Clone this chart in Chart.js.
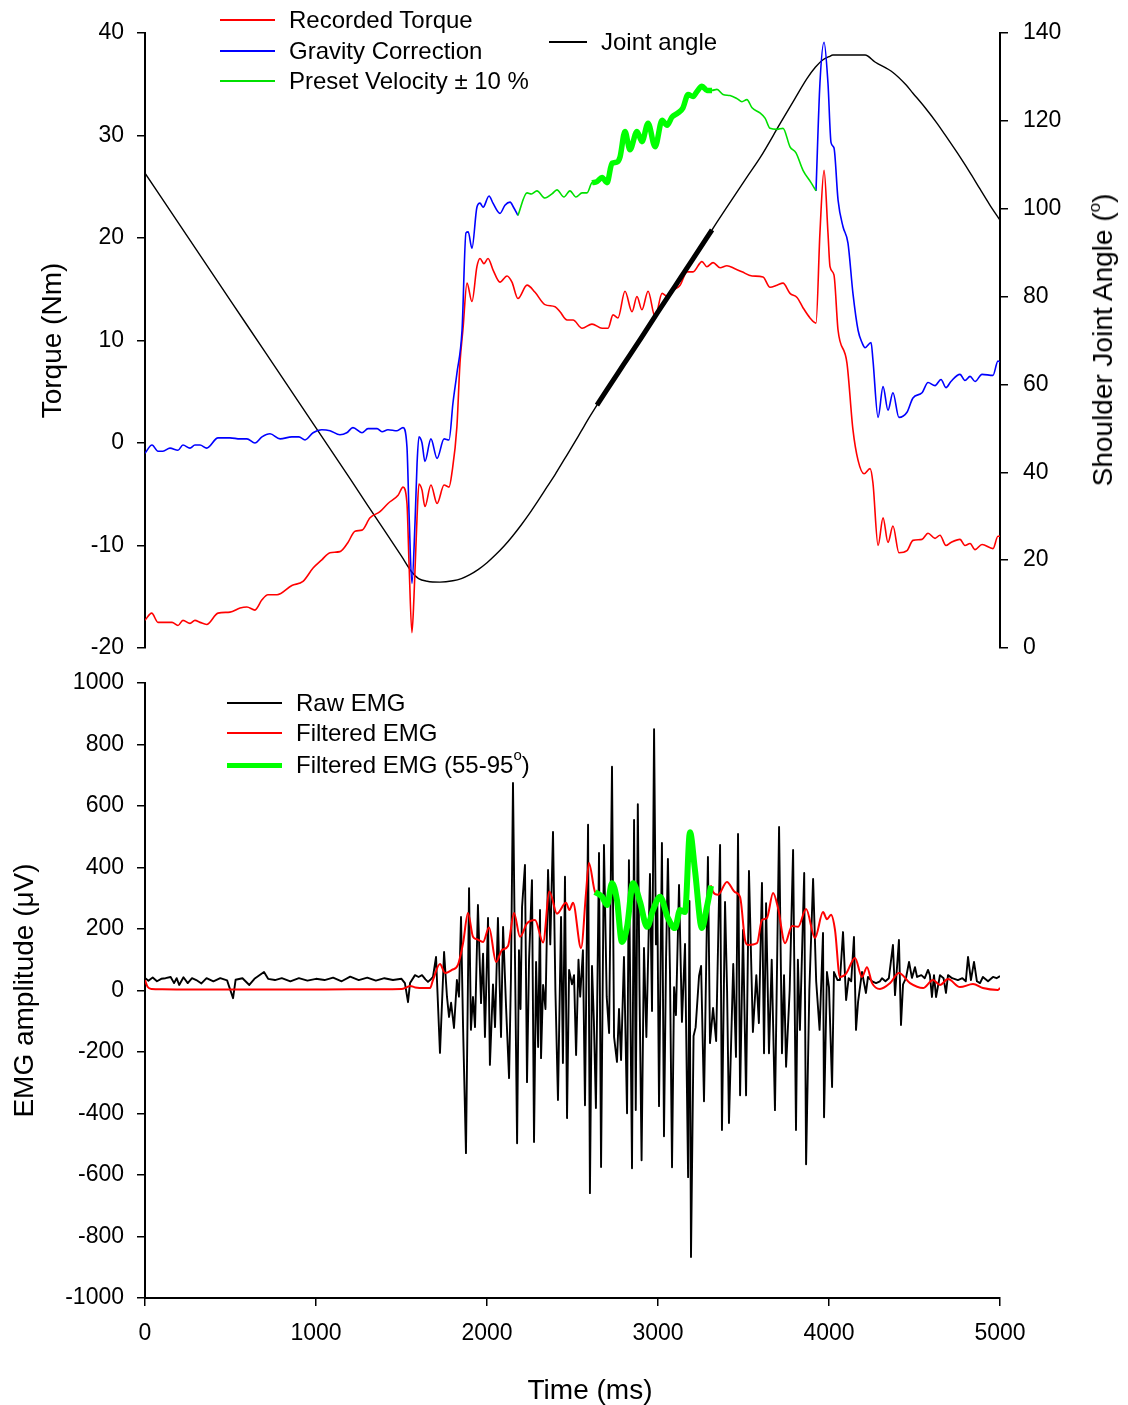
<!DOCTYPE html>
<html>
<head>
<meta charset="utf-8">
<title>Torque, joint angle and EMG</title>
<script src="https://cdn.jsdelivr.net/npm/chart.js@4.4.1/dist/chart.umd.min.js"></script>
<style>
  html, body { margin: 0; padding: 0; background: #fff; }
  body { width: 1128px; height: 1405px; position: relative; overflow: hidden;
         font-family: "Liberation Sans", Arial, sans-serif; color: #000; }
  canvas { position: absolute; left: 0; }
  #topCanvas { top: 0; }
  #bottomCanvas { top: 650px; }
  .key { position: absolute; height: 30px; line-height: 30px; font-size: 24px; white-space: nowrap; }
  .key .swatch { position: absolute; top: 50%; }
  .key .label { position: absolute; top: 0; }
  .key sup { font-size: 15px; position: relative; top: -3px; vertical-align: top; line-height: 1; }
  .axisTitle { position: absolute; font-size: 28px; white-space: nowrap; line-height: 1; }
  #angleTitle { left: 1103px; top: 340px; transform: translate(-50%, -50%) rotate(-90deg); }
  #timeTitle { left: 590px; top: 1390px; transform: translate(-50%, -50%); }
  .axisTitle sup { font-size: 17px; position: relative; top: -3px; vertical-align: top; line-height: 1; }
</style>
</head>
<body>
<canvas id="topCanvas" width="1128" height="680"></canvas>
<canvas id="bottomCanvas" width="1128" height="755"></canvas>
<div id="angleTitle" class="axisTitle">Shoulder Joint Angle (<sup>o</sup>)</div>
<div id="timeTitle" class="axisTitle">Time (ms)</div>
<div id="legends"></div>
<script>
// ---- tick values ----
const timeTicks = [0, 1000, 2000, 3000, 4000, 5000];
const torqueTicks = [-20, -10, 0, 10, 20, 30, 40];
const angleTicks = [0, 20, 40, 60, 80, 100, 120, 140];
const emgTicks = [-1000, -800, -600, -400, -200, 0, 200, 400, 600, 800, 1000];

// ---- recorded torque (Nm) ----
const torqueTime = [0, 39, 76, 158, 193, 222, 263, 292, 322, 361, 427, 497, 556, 596, 643, 684, 719, 772,
  859, 924, 983, 1034, 1082, 1140, 1187, 1228, 1269, 1316, 1374, 1421, 1480, 1509, 1532, 1544, 1561, 1573,
  1591, 1602, 1620, 1637, 1672, 1708, 1749, 1778, 1795, 1824, 1842, 1860, 1883, 1912, 1941, 1959, 1982,
  2006, 2035, 2076, 2117, 2146, 2181, 2234, 2281, 2339, 2398, 2427, 2468, 2503, 2556, 2614, 2673, 2708,
  2737, 2766, 2807, 2848, 2877, 2906, 2942, 2983, 3024, 3053, 3088, 3129, 3170, 3205, 3257, 3286, 3322,
  3363, 3403, 3450, 3491, 3550, 3614, 3655, 3696, 3731, 3772, 3813, 3848, 3889, 3924, 3947, 3971, 3994,
  4006, 4029, 4053, 4105, 4140, 4170, 4205, 4240, 4257, 4287, 4316, 4345, 4374, 4409, 4456, 4491, 4544,
  4579, 4620, 4649, 4684, 4713, 4766, 4795, 4825, 4854, 4895, 4959, 4988, 5000];
const recordedTorque = [-17.3, -16.6, -17.5, -17.5, -17.8, -17.3, -17.6, -17.3, -17.5, -17.7, -16.6, -16.5,
  -16.1, -16.0, -16.3, -15.3, -14.8, -14.8, -13.9, -13.5, -12.2, -11.4, -10.7, -10.6, -9.7, -8.6, -8.5,
  -7.3, -6.7, -5.9, -5.1, -4.3, -5.9, -11.7, -18.5, -15.0, -7.2, -4.0, -4.6, -6.2, -4.1, -5.9, -4.1, -4.3,
  -2.9, 1.6, 7.8, 11.2, 15.6, 13.8, 17.2, 18.0, 17.5, 18.0, 16.9, 15.7, 16.3, 15.7, 14.1, 15.4, 14.7,
  13.5, 13.3, 12.8, 12.0, 12.0, 11.2, 11.6, 11.2, 11.2, 12.5, 12.2, 14.8, 12.8, 14.3, 13.0, 14.8, 12.3,
  14.6, 14.3, 14.9, 15.4, 16.7, 16.7, 17.7, 17.2, 17.6, 17.1, 17.3, 17.0, 16.7, 16.3, 16.2, 15.2, 15.4,
  15.6, 14.6, 14.2, 13.2, 12.2, 11.7, 20.5, 26.6, 20.5, 17.2, 16.4, 11.0, 7.8, 1.3, -1.7, -3.0, -2.5,
  -3.9, -10.0, -7.3, -9.7, -8.1, -10.7, -10.5, -9.5, -9.4, -8.8, -9.3, -9.0, -10.0, -9.7, -9.4, -10.0,
  -9.8, -10.4, -9.9, -10.3, -9.1, -9.1];

// ---- gravity corrected torque (Nm) ----
const gravityTime = [0, 41, 76, 105, 146, 193, 222, 263, 292, 322, 361, 427, 497, 556, 596, 643, 684, 731,
  790, 859, 900, 936, 983, 1034, 1082, 1140, 1180, 1216, 1269, 1304, 1357, 1386, 1421, 1474, 1509, 1532,
  1544, 1561, 1579, 1591, 1602, 1620, 1637, 1672, 1708, 1749, 1778, 1801, 1824, 1854, 1877, 1890, 1912,
  1941, 1959, 1977, 2012, 2035, 2076, 2105, 2135, 2155, 2181, 2234, 2260, 2292, 2339, 2380, 2409, 2450,
  2485, 2520, 2556, 2585, 2614, 2643, 2673, 2702, 2731, 2760, 2778, 2807, 2836, 2877, 2906, 2942, 2983,
  3024, 3053, 3082, 3117, 3146, 3176, 3205, 3228, 3257, 3286, 3316, 3345, 3380, 3421, 3462, 3491, 3520,
  3550, 3596, 3626, 3655, 3696, 3731, 3772, 3807, 3848, 3895, 3924, 3947, 3971, 3994, 4012, 4029, 4053,
  4082, 4111, 4140, 4170, 4193, 4211, 4246, 4257, 4287, 4316, 4345, 4374, 4409, 4456, 4491, 4544, 4579,
  4620, 4655, 4684, 4713, 4766, 4795, 4825, 4854, 4895, 4959, 4988, 5000];
const gravityCorrection = [-1.0, -0.2, -0.8, -0.8, -0.5, -0.7, -0.2, -0.5, -0.2, -0.2, -0.5, 0.5, 0.5, 0.4,
  0.4, 0.0, 0.6, 0.9, 0.4, 0.6, 0.6, 0.3, 1.0, 1.3, 1.2, 0.8, 1.0, 1.5, 1.0, 1.4, 1.4, 1.1, 1.3, 1.2, 1.5,
  -0.4, -6.8, -13.7, -7.8, -2.0, 0.6, 0.0, -1.8, 0.4, -1.5, 0.4, 0.3, 3.9, 6.8, 11.0, 20.5, 20.6, 19.0,
  23.0, 23.4, 23.0, 24.1, 23.4, 22.4, 23.2, 23.5, 23.0, 22.2, 24.4, 24.3, 24.6, 23.9, 24.3, 24.7, 24.0,
  24.6, 24.0, 24.4, 24.4, 25.4, 25.5, 25.9, 25.4, 27.3, 27.4, 27.9, 30.4, 28.6, 30.4, 29.4, 31.2, 28.9,
  31.5, 31.0, 31.8, 32.2, 32.7, 34.0, 33.8, 34.3, 34.8, 34.4, 34.4, 34.5, 34.0, 33.9, 33.6, 33.3, 33.5,
  32.7, 32.2, 31.7, 30.7, 30.6, 30.7, 28.9, 28.3, 26.6, 25.4, 24.6, 35.1, 39.1, 35.1, 29.3, 28.8, 23.7,
  21.1, 19.5, 14.6, 11.0, 9.8, 9.3, 9.8, 8.1, 2.5, 5.5, 3.2, 4.9, 2.5, 3.0, 4.4, 4.9, 5.9, 5.6, 6.2, 5.4,
  6.0, 6.7, 6.1, 6.5, 6.0, 6.7, 6.6, 8.0, 7.9];

// ---- shoulder joint angle (deg) ----
const angleTime = [0, 100, 200, 300, 400, 500, 600, 700, 800, 900, 1000, 1100, 1200, 1300, 1400, 1500, 1560,
  1600, 1650, 1725, 1800, 1850, 1900, 1950, 2000, 2050, 2100, 2150, 2200, 2250, 2300, 2350, 2400, 2450,
  2500, 2550, 2600, 2643, 2700, 2800, 2900, 3000, 3100, 3200, 3316, 3400, 3520, 3600, 3713, 3800, 3871,
  3920, 3965, 4000, 4023, 4211, 4269, 4374, 4450, 4491, 4560, 4631, 4700, 4766, 4830, 4883, 4940, 5000];
const jointAngle = [108.1, 102.3, 96.5, 90.7, 84.9, 79.1, 73.3, 67.5, 61.7, 55.9, 50.1, 44.3, 38.5, 32.6,
  26.8, 20.9, 17.3, 15.8, 15.2, 15.0, 15.3, 15.8, 16.7, 17.9, 19.4, 21.2, 23.2, 25.5, 28.0, 30.7, 33.6,
  36.6, 39.6, 42.8, 46.0, 49.3, 52.6, 55.3, 58.7, 64.6, 70.5, 76.5, 82.4, 88.3, 95.2, 100.2, 107.2, 111.8,
  119.3, 125.0, 129.6, 132.2, 133.9, 134.6, 135.0, 135.0, 133.4, 131.0, 128.2, 126.3, 123.1, 119.5, 115.6,
  111.8, 107.9, 104.5, 100.9, 97.4];

// ---- raw EMG (uV) ----
const rawTime = [0, 20, 45, 70, 95, 120, 150, 170, 185, 200, 225, 250, 275, 300, 330, 360, 400, 440, 480,
  515, 530, 570, 610, 640, 696, 720, 760, 800, 850, 900, 950, 1000, 1050, 1100, 1150, 1200, 1250, 1300,
  1350, 1400, 1450, 1500, 1520, 1538, 1550, 1579, 1600, 1620, 1640, 1655,
  1667, 1684, 1702, 1725, 1749, 1766, 1778, 1790, 1807, 1824, 1836, 1848, 1860, 1877, 1895, 1906, 1918,
  1930, 1947, 1965, 1977, 1988, 2006, 2017, 2035, 2047, 2064, 2082, 2094, 2111, 2129, 2140, 2152, 2176,
  2187, 2196, 2205, 2222, 2234, 2246, 2263, 2275, 2287, 2299, 2310, 2316, 2328, 2342, 2357, 2370, 2386,
  2400, 2415, 2433, 2444, 2456, 2468, 2480, 2497, 2509, 2521, 2535, 2545, 2561, 2573, 2591, 2602, 2614,
  2625, 2637, 2655, 2667, 2684, 2700, 2714, 2731, 2743, 2760, 2772, 2784, 2801, 2819, 2830, 2848, 2860,
  2870, 2882, 2892, 2904, 2918, 2932, 2953, 2965, 2977, 2988, 2996, 3006, 3023, 3035, 3047, 3058, 3070,
  3082, 3094, 3105, 3123, 3140, 3158, 3176, 3184, 3193, 3208, 3220, 3240, 3252, 3269, 3292, 3304, 3322,
  3340, 3363, 3374, 3392, 3404, 3415, 3440, 3456, 3468, 3480, 3497, 3515, 3532, 3555, 3575, 3590, 3608,
  3620, 3632, 3649, 3665, 3684, 3708, 3725, 3737, 3749, 3770, 3790, 3807, 3818, 3830, 3855, 3866, 3885,
  3907, 3925, 3945, 3965, 3971, 3988, 4000, 4018, 4029, 4050, 4064, 4082, 4100, 4115, 4130, 4146, 4158,
  4170, 4193, 4216, 4228, 4252, 4275, 4298, 4310, 4330, 4350, 4374, 4386, 4409, 4421, 4433, 4450, 4468,
  4485, 4503, 4515, 4540, 4560, 4579, 4590, 4602, 4614, 4626, 4649, 4670, 4684, 4696, 4720, 4754, 4780,
  4800, 4813, 4830, 4848, 4865, 4883, 4900, 4930, 4959, 4980, 5000];
const rawEmg = [41, 32, 42, 30, 38, 40, 44, 24, 40, 18, 43, 24, 40, 34, 23, 40, 30, 40, 33, -25, 35, 40, 18,
  38, 60, 38, 34, 40, 30, 40, 32, 38, 34, 42, 30, 45, 34, 42, 32, 40, 34, 38, 24, -38, 24, 50, 44, 50, 36, 28,
  34, 44, 109, -203, 125, -21, -86, -40, -122, 34, -20, 239, -119, -529, 333, -128, -21, -119, 278, -41,
  120, -151, 236, -242, 20, -119, 236, -151, 207, -47, -285, 40, 675, -497, 131, -60, 272, 408, -298, 100,
  359, -493, 93, -184, 262, -220, 18, -60, 392, 150, 516, 0, -356, 239, -236, 370, -415, 67, 20, 50, -210,
  100, -20, 131, -373, 539, -659, 80, -100, -382, 447, -574, 473, -20, -138, 728, -151, -232, -60, -226,
  109, -399, 424, -578, 555, -389, 606, 0, -552, 138, -151, 379, -67, 850, 150, 305, -376, 480, -474, 100,
  428, 60, -575, 11, -80, 343, -102, 151, -607, 291, -867, -148, -120, 47, 80, -360, 434, -171, -57, -164,
  473, -454, 288, 0, -431, 86, -216, 509, -341, 197, -341, 389, -135, 50, -106, 350, -204, 284, -204, 100,
  -389, 532, -204, 50, -248, 0, 457, -454, 100, -128, 382, -565, 0, 363, 30, -128, 187, -412, 60, 10, -314,
  60, 34, 34, 190, -31, 40, 30, 174, -128, -37, 60, -8, 44, 30, 24, 30, 40, 30, 40, 148, -15, 164, -112, 20,
  40, 93, 41, 76, 44, 50, 40, 67, 50, -21, 50, -21, 50, 40, -8, 50, 40, 34, 40, 30, 109, 34, 93, 30, 24, 44,
  30, 44, 40, 47];

// ---- filtered EMG (uV) ----
const filtTime = [0, 15, 39, 100, 300, 600, 900, 1200, 1500, 1532, 1550, 1580, 1640, 1667, 1684, 1725, 1754,
  1795, 1830, 1860, 1889, 1918, 1941, 1977, 2012, 2053, 2088, 2123, 2158, 2193, 2234, 2281, 2328, 2365,
  2409, 2462, 2482, 2503, 2550, 2579, 2596, 2632, 2673, 2702, 2731, 2760, 2789, 2819, 2854, 2895, 2936,
  2971, 3012, 3058, 3099, 3129, 3158, 3187, 3216, 3257, 3286, 3310, 3322, 3351, 3403, 3450, 3480, 3509,
  3526, 3579, 3608, 3637, 3673, 3702, 3743, 3784, 3819, 3866, 3918, 3965, 3988, 4012, 4035, 4064, 4100,
  4152, 4193, 4222, 4252, 4298, 4357, 4409, 4474, 4550, 4608, 4649, 4696, 4766, 4842, 4900, 4988, 5000];
const filteredEmg = [34, 12, 5, 4, 3, 3, 3, 4, 5, 11, 15, 10, 8, 8, 34, 86, 57, 67, 83, 154, 252, 175, 167,
  158, 205, 93, 132, 145, 252, 175, 218, 229, 156, 322, 250, 285, 262, 285, 138, 317, 415, 320, 305, 278,
  349, 294, 158, 207, 349, 288, 207, 262, 305, 236, 203, 262, 255, 515, 392, 203, 272, 340, 320, 311, 353,
  320, 304, 164, 148, 154, 229, 236, 317, 268, 154, 210, 207, 265, 171, 255, 232, 246, 197, 44, 55, 106,
  44, 76, 24, 5, 24, 57, 24, 8, 34, 18, 37, 11, 21, 8, 2, 8];

// time windows (ms)
const velocityWindow = [2181, 3924];   // preset velocity +/- 10 %
const torqueThick = [2614, 3316];      // 55-95 deg on the torque trace
const angleThick = [2643, 3316];       // 55-95 deg on the angle trace
const emgThick = [2632, 3310];         // 55-95 deg on the filtered EMG

const FONT = '"Liberation Sans", Arial, sans-serif';
Chart.defaults.font.family = FONT;
Chart.defaults.color = '#000';

// Build {x, y} points, optionally only inside [from, to]
function points(times, values, from, to) {
    const out = [];
    for (let i = 0; i < times.length; i++) {
        if (from === undefined || (times[i] >= from && times[i] <= to)) {
            out.push({ x: times[i], y: values[i] });
        }
    }
    return out;
}

// gravity trace outside the velocity window, with a gap in between
function gravityOutside() {
    const before = points(gravityTime, gravityCorrection, 0, velocityWindow[0]);
    const after = points(gravityTime, gravityCorrection, velocityWindow[1], 5000);
    return before.concat([{ x: (velocityWindow[0] + velocityWindow[1]) / 2, y: null }], after);
}

function line(label, data, color, width, axis, order, smooth) {
    return {
        label: label, data: data, yAxisID: axis, order: order,
        borderColor: color, borderWidth: width, pointRadius: 0,
        fill: false, spanGaps: false,
        cubicInterpolationMode: smooth ? 'monotone' : 'default',
        tension: smooth ? 0.4 : 0,
        borderCapStyle: 'butt', borderJoinStyle: 'round'
    };
}

function yAxis(position, ticks, width, pad, title, titlePad) {
    return {
        type: 'linear', position: position,
        min: ticks[0], max: ticks[ticks.length - 1],
        afterBuildTicks: (s) => { s.ticks = ticks.map((v) => ({ value: v })); },
        afterFit: (s) => { s.width = width; },
        ticks: { font: { size: 23 }, color: '#000', padding: pad, callback: (v) => String(v) },
        grid: { drawOnChartArea: false, drawTicks: true, tickLength: 8, color: '#000', lineWidth: 1.5 },
        border: { display: true, color: '#000', width: 2 },
        title: { display: !!title, text: title, font: { size: 28 }, color: '#000', padding: { top: titlePad, bottom: 0 } }
    };
}

// ---- top panel: torque and joint angle ----
// canvas 0..680, plot area 33..648
const topChart = new Chart(document.getElementById('topCanvas'), {
    type: 'line',
    data: {
        datasets: [
            line('Joint angle 55-95', points(angleTime, jointAngle, angleThick[0], angleThick[1]), '#000', 5, 'yA', 0, true),
            line('Preset 55-95', points(gravityTime, gravityCorrection, torqueThick[0], torqueThick[1]), '#00ff00', 5.5, 'yT', 1, true),
            line('Preset Velocity ± 10 %', points(gravityTime, gravityCorrection, velocityWindow[0], velocityWindow[1]), '#00e000', 1.6, 'yT', 2, true),
            line('Gravity Correction', gravityOutside(), '#0000ff', 1.6, 'yT', 3, true),
            line('Recorded Torque', points(torqueTime, recordedTorque), '#ff0000', 1.6, 'yT', 4, true),
            line('Joint angle', points(angleTime, jointAngle), '#000', 1.4, 'yA', 5, true)
        ]
    },
    options: {
        responsive: false, animation: false, devicePixelRatio: 1,
        layout: { padding: { top: 33, bottom: 32, left: 0, right: 0 } },
        plugins: { legend: { display: false }, tooltip: { enabled: false } },
        scales: {
            x: { type: 'linear', min: 0, max: 5000, display: false },
            yT: yAxis('left', torqueTicks, 145, 13, 'Torque (Nm)', 36),
            yA: yAxis('right', angleTicks, 128, 15, '', 0)
        }
    }
});

// ---- bottom panel: EMG ----
// canvas 650..1405, plot area 683..1298
const xAxis = {
    type: 'linear', position: 'bottom', min: 0, max: 5000,
    afterBuildTicks: (s) => { s.ticks = timeTicks.map((v) => ({ value: v })); },
    afterFit: (s) => { s.height = 107; },
    ticks: { font: { size: 23 }, color: '#000', padding: 14, maxRotation: 0, autoSkip: false, callback: (v) => String(v) },
    grid: { drawOnChartArea: false, drawTicks: true, tickLength: 8, color: '#000', lineWidth: 1.5 },
    border: { display: true, color: '#000', width: 2 },
    title: { display: false }
};

const bottomChart = new Chart(document.getElementById('bottomCanvas'), {
    type: 'line',
    data: {
        datasets: [
            line('Filtered EMG (55-95°)', points(filtTime, filteredEmg, emgThick[0], emgThick[1]), '#00ff00', 6, 'y', 0, true),
            line('Filtered EMG', points(filtTime, filteredEmg), '#ff0000', 2, 'y', 1, true),
            line('Raw EMG', points(rawTime, rawEmg), '#000', 1.9, 'y', 2, false)
        ]
    },
    options: {
        responsive: false, animation: false, devicePixelRatio: 1,
        layout: { padding: { top: 33, bottom: 0, left: 0, right: 128 } },
        plugins: { legend: { display: false }, tooltip: { enabled: false } },
        scales: {
            x: xAxis,
            y: yAxis('left', emgTicks, 145, 13, 'EMG amplitude (μV)', 8)
        }
    }
});

// ---- legends (page coordinates) ----
const legendItems = [
    { text: 'Recorded Torque', color: '#ff0000', lineX: 220, lineW: 55, textX: 289, y: 20, w: 1.6 },
    { text: 'Gravity Correction', color: '#0000ff', lineX: 220, lineW: 55, textX: 289, y: 51, w: 1.6 },
    { text: 'Preset Velocity ± 10 %', color: '#00e000', lineX: 220, lineW: 55, textX: 289, y: 81, w: 1.6 },
    { text: 'Joint angle', color: '#000', lineX: 549, lineW: 38, textX: 601, y: 42, w: 1.6 },
    { text: 'Raw EMG', color: '#000', lineX: 227, lineW: 55, textX: 296, y: 703, w: 1.8 },
    { text: 'Filtered EMG', color: '#ff0000', lineX: 227, lineW: 55, textX: 296, y: 733, w: 2 },
    { text: 'Filtered EMG (55-95<sup>o</sup>)', color: '#00ff00', lineX: 227, lineW: 55, textX: 296, y: 765, w: 5 }
];

function drawLegends() {
    const box = document.getElementById('legends');
    legendItems.forEach((item) => {
        const row = document.createElement('div');
        row.className = 'key';
        row.style.left = item.lineX + 'px';
        row.style.top = (item.y - 15) + 'px';
        row.innerHTML =
            '<span class="swatch" style="left:0;width:' + item.lineW + 'px;height:' + item.w + 'px;' +
            'margin-top:' + (-item.w / 2) + 'px;background:' + item.color + '"></span>' +
            '<span class="label" style="left:' + (item.textX - item.lineX) + 'px">' + item.text + '</span>';
        box.appendChild(row);
    });
}

drawLegends();
</script>
</body>
</html>
